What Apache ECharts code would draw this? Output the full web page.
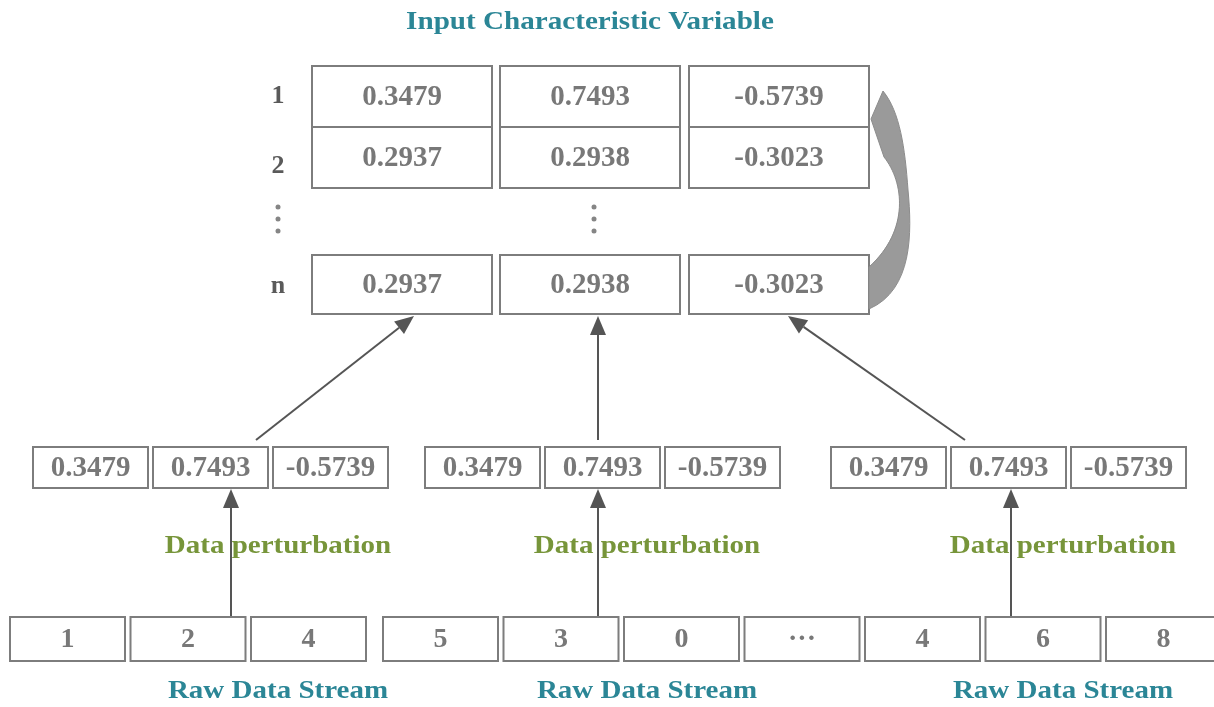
<!DOCTYPE html>
<html>
<head>
<meta charset="utf-8">
<script src="https://cdn.jsdelivr.net/npm/echarts@6/dist/echarts.min.js"></script>
<style>
  html, body { margin: 0; padding: 0; background: #fff; }
  #chart { width: 1214px; height: 707px; }
</style>
</head>
<body>
<div id="chart"></div>
<script>
// --- data ---
const title = 'Input Characteristic Variable';
const rowLabels = ['1', '2', 'n'];
const topRows = [
  ['0.3479', '0.7493', '-0.5739'],
  ['0.2937', '0.2938', '-0.3023'],
  ['0.2937', '0.2938', '-0.3023'],
];
const midGroups = [
  ['0.3479', '0.7493', '-0.5739'],
  ['0.3479', '0.7493', '-0.5739'],
  ['0.3479', '0.7493', '-0.5739'],
];
const rawStream = ['1', '2', '4', '5', '3', '0', '\u00b7\u00b7\u00b7', '4', '6', '8'];
const stepLabel = 'Data perturbation';
const streamLabel = 'Raw Data Stream';

// --- layout (pixel space of the hidden axes) ---
const W = 1214, H = 707;
const FONT = '"Liberation Serif", "DejaVu Serif", serif';
const GRAY_TEXT = '#787878';
const BORDER = '#7d7d7d';
const TEAL = '#2b8696';
const GREEN = '#77953a';

const topColX = [312, 500, 689];
const topColW = 180;
const topRowY = [66, 127, 255];
const topRowH = [61, 61, 59];
const rowLabelY = [96, 166, 286];

const midGroupX = [33, 425, 831];
const midStep = 120;
const midW = 115;
const midY = 447, midH = 41;

const rawX = [10, 130.5, 251, 383, 503.5, 624, 744.5, 865, 985.5, 1106];
const rawW = 115;
const rawY = 617, rawH = 44;

const groupCenterX = [278, 647, 1063];
const stepLabelY = 547;
const streamLabelY = 692;

// arrows: [x1, y1, x2, y2]
const arrowsUp = [
  [256, 440, 414, 316],
  [598, 440, 598, 316],
  [965, 440, 788, 316],
  [231, 617, 231, 489],
  [598, 617, 598, 489],
  [1011, 617, 1011, 489],
];

// --- build cells ---
const cells = [];
topRows.forEach((row, r) => {
  row.forEach((v, c) => cells.push([topColX[c], topRowY[r], topColW, topRowH[r], v, 29]));
});
midGroups.forEach((g, gi) => {
  g.forEach((v, c) => cells.push([midGroupX[gi] + c * midStep, midY, midW, midH, v, 29]));
});
rawStream.forEach((v, i) => cells.push([rawX[i], rawY, rawW, rawH, v, 28]));

const texts = [];
texts.push([590, 22, title, TEAL, 26, 1.12]);
rowLabels.forEach((t, i) => texts.push([278, rowLabelY[i], t, '#5a5a5a', 26, 1]));
groupCenterX.forEach((x) => {
  texts.push([x, stepLabelY, stepLabel, GREEN, 25, 1.16]);
  texts.push([x, streamLabelY, streamLabel, TEAL, 25, 1.16]);
});

const dotsX = [278, 594];
const dotsY = [207, 219, 231];
const dots = [];
dotsX.forEach((x) => dotsY.forEach((y) => dots.push([x, y])));

const chart = echarts.init(document.getElementById('chart'));

function boxItem(params, api) {
  const x = api.value(0), y = api.value(1), w = api.value(2), h = api.value(3);
  const p1 = api.coord([x, y]);
  const p2 = api.coord([x + w, y + h]);
  const label = cells[params.dataIndex][4];
  const size = cells[params.dataIndex][5];
  return {
    type: 'group',
    children: [
      {
        type: 'rect',
        shape: { x: p1[0], y: p1[1], width: p2[0] - p1[0], height: p2[1] - p1[1] },
        style: { fill: '#fff', stroke: BORDER, lineWidth: 2 },
      },
      {
        type: 'text',
        x: (p1[0] + p2[0]) / 2,
        y: (p1[1] + p2[1]) / 2 + 1,
        style: {
          text: label,
          fill: GRAY_TEXT,
          font: 'bold ' + size + 'px ' + FONT,
          align: 'center',
          verticalAlign: 'middle',
        },
      },
    ],
  };
}

function textItem(params, api) {
  const t = texts[params.dataIndex];
  const p = api.coord([t[0], t[1]]);
  return {
    type: 'text',
    x: p[0],
    y: p[1],
    scaleX: t[5],
    style: {
      text: t[2],
      fill: t[3],
      font: 'bold ' + t[4] + 'px ' + FONT,
      align: 'center',
      verticalAlign: 'middle',
    },
  };
}

function arrowItem(params, api) {
  const a = api.coord([api.value(0), api.value(1)]);
  const b = api.coord([api.value(2), api.value(3)]);
  const dx = b[0] - a[0], dy = b[1] - a[1];
  const len = Math.sqrt(dx * dx + dy * dy);
  const ux = dx / len, uy = dy / len;
  const headL = 19, headW = 8;
  const base = [b[0] - ux * headL, b[1] - uy * headL];
  return {
    type: 'group',
    children: [
      {
        type: 'line',
        shape: { x1: a[0], y1: a[1], x2: base[0], y2: base[1] },
        style: { stroke: '#555', lineWidth: 2 },
      },
      {
        type: 'polygon',
        shape: {
          points: [
            b,
            [base[0] - uy * headW, base[1] + ux * headW],
            [base[0] + uy * headW, base[1] - ux * headW],
          ],
        },
        style: { fill: '#555' },
      },
    ],
  };
}

// curved feedback arrow from row n back to row 1
const loopPts = [
  [883, 91], [871, 119], [884, 157],
  [904, 182], [910, 230], [869, 267],
  [869, 309],
  [913, 290], [912, 232], [908, 190],
  [905, 148], [900, 112], [883, 91],
];

function loopItem(params, api) {
  const p = loopPts.map((q) => api.coord(q).join(' '));
  const d =
    'M' + p[0] + ' L' + p[1] + ' L' + p[2] +
    ' C' + p[3] + ' ' + p[4] + ' ' + p[5] +
    ' L' + p[6] +
    ' C' + p[7] + ' ' + p[8] + ' ' + p[9] +
    ' C' + p[10] + ' ' + p[11] + ' ' + p[12] + ' Z';
  return {
    type: 'path',
    shape: { pathData: d },
    style: { fill: '#9a9a9a', stroke: '#8c8c8c', lineWidth: 1 },
  };
}

chart.setOption({
  backgroundColor: '#fff',
  animation: false,
  grid: { left: 0, right: 0, top: 0, bottom: 0 },
  xAxis: { type: 'value', min: 0, max: W, show: false },
  yAxis: { type: 'value', min: 0, max: H, inverse: true, show: false },
  series: [
    {
      type: 'custom',
      renderItem: arrowItem,
      data: arrowsUp,
      silent: true,
      z: 1,
    },
    {
      type: 'custom',
      renderItem: boxItem,
      data: cells.map((c) => c.slice(0, 4)),
      silent: true,
      z: 2,
    },
    {
      type: 'custom',
      renderItem: loopItem,
      data: [[0]],
      silent: true,
      z: 3,
    },
    {
      type: 'custom',
      renderItem: textItem,
      data: texts.map((t) => [t[0], t[1]]),
      silent: true,
      z: 4,
    },
    {
      type: 'scatter',
      data: dots,
      symbol: 'circle',
      symbolSize: 5,
      itemStyle: { color: '#666' },
      silent: true,
      z: 4,
    },
  ],
});
</script>
</body>
</html>
